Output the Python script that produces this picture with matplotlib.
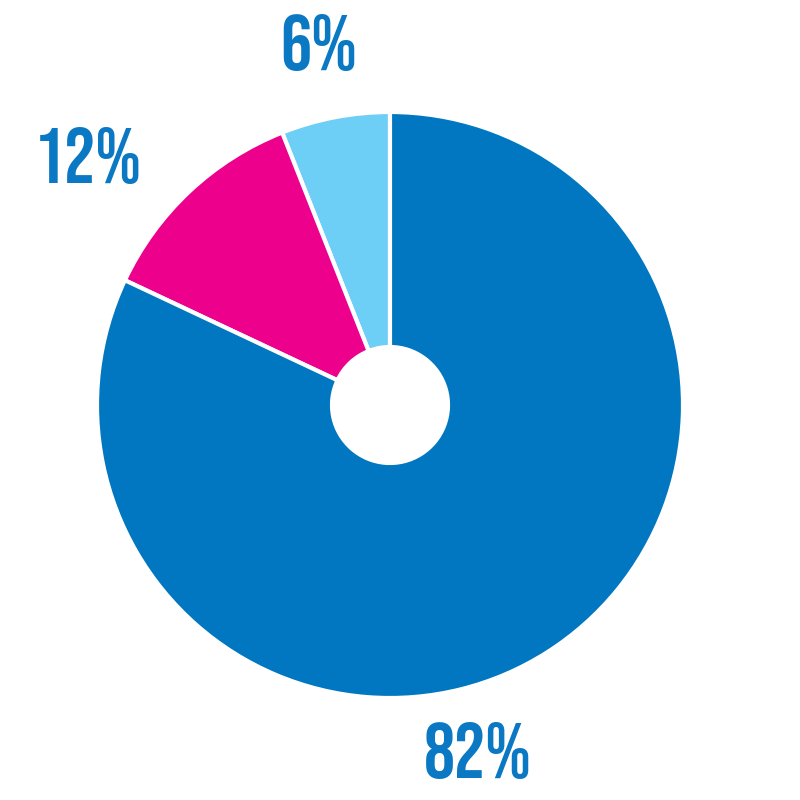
import matplotlib.pyplot as plt
from matplotlib import font_manager

# Slice data, counter-clockwise from 12 o'clock
labels = ["6%", "12%", "82%"]
shares = [6, 12, 82]
colors = ["#6DCFF6", "#EC008C", "#0077C0"]
label_pos = [(319, 758), (88, 645), (478, 50)]

names = {f.name for f in font_manager.fontManager.ttflist}
family = "DejaVu Sans"
for cand in ["Bebas Neue", "League Gothic", "Oswald", "Barlow Condensed"]:
    if cand in names:
        family = cand
        break

fig = plt.figure(figsize=(8, 8), dpi=100)
ax = fig.add_axes([0, 0, 1, 1])

radius = 293
ax.pie(shares, colors=colors, startangle=90, counterclock=True,
       center=(390, 395), radius=radius, frame=True,
       wedgeprops=dict(width=radius - 58, edgecolor="white", linewidth=3))
ax.set_xlim(0, 800)
ax.set_ylim(0, 800)
ax.set_aspect("equal")
ax.axis("off")

# Percentage labels in a condensed display face
for text, (x, y) in zip(labels, label_pos):
    ax.text(x, y, text, ha="center", va="center_baseline", fontsize=56,
            fontweight="bold", family=family, color="#0A78C2")

plt.savefig("out.png", dpi=100)
